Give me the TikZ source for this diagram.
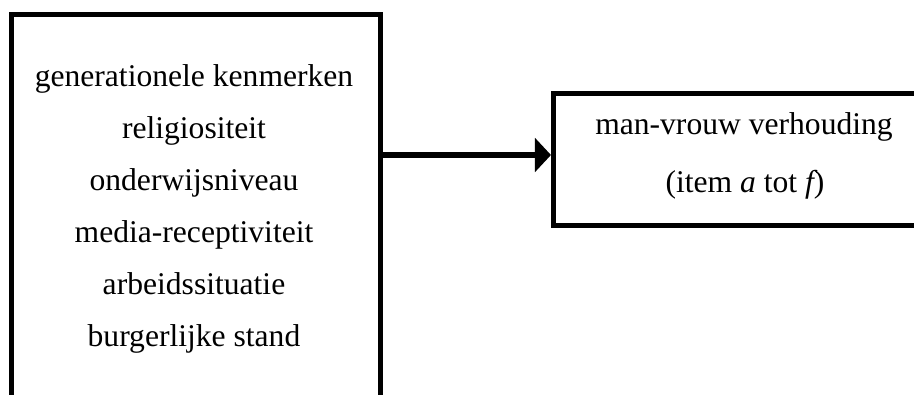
\documentclass[tikz,border=0pt]{standalone}
\usepackage{fontspec}
\setmainfont{Liberation Serif}
\usetikzlibrary{arrows.meta}

\tikzset{
  frame/.style={draw, line width=3.75pt, inner sep=0pt},
  label/.style={inner sep=0.75pt, font=\fontsize{23.7}{28}\selectfont},
  link/.style={line width=3.9pt, -{Triangle[length=12pt, width=25pt]}}
}

\begin{document}
\begin{tikzpicture}[x=0.75pt,y=0.75pt,yscale=-1,xscale=1]
%set diagram: 914 wide, 395 high
\useasboundingbox (0,0) rectangle (914,395);
\clip (0,0) rectangle (914,395);

%Shape: Rectangle [id:factors] 
\node [frame, minimum width=276.75pt, minimum height=303.75pt] (factors) at (195.5,217.5) {};
%Shape: Rectangle [id:relation] 
\node [frame, minimum width=304.9pt, minimum height=99pt] (relation) at (756.75,160) {};

%Straight Lines [id:link] 
\coordinate (level) at (0,155);
\draw [link] (factors.east |- level) -- (relation.west |- level) ;

% Text Node
\node [label, anchor=base] (gen) at (194,87) {generationele kenmerken};
% Text Node
\node [label, anchor=base] (rel) at (194,139) {religiositeit};
% Text Node
\node [label, anchor=base] (edu) at (194,191) {onderwijsniveau};
% Text Node
\node [label, anchor=base] (media) at (194,243) {media-receptiviteit};
% Text Node
\node [label, anchor=base] (work) at (194,295) {arbeidssituatie};
% Text Node
\node [label, anchor=base] (civil) at (194,347) {burgerlijke stand};
% Text Node
\node [label, anchor=base] (mv) at (744,135) {man-vrouw verhouding};
% Text Node
\node [label, anchor=base] (items) at (745,193) {(item {\itshape a} tot {\itshape f})};

\end{tikzpicture}
\end{document}
